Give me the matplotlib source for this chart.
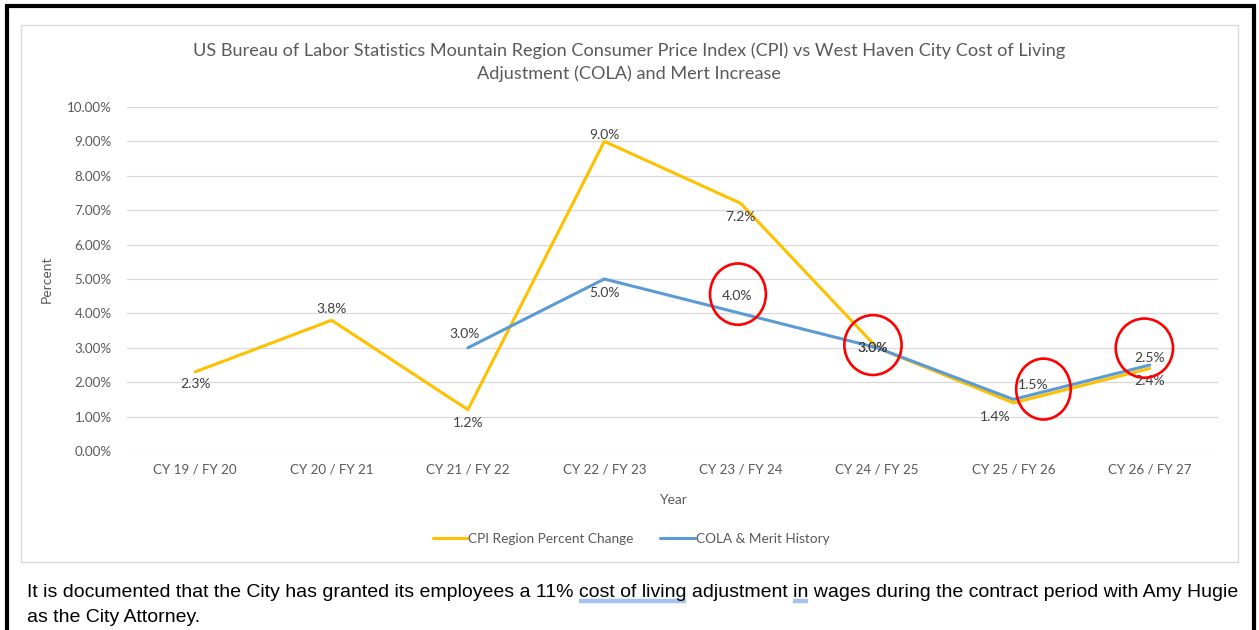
import numpy as np
import matplotlib
matplotlib.use('Agg')
from matplotlib import pyplot as plt
from matplotlib.patches import Ellipse, Rectangle

years = ['CY 19 / FY 20', 'CY 20 / FY 21', 'CY 21 / FY 22', 'CY 22 / FY 23',
         'CY 23 / FY 24', 'CY 24 / FY 25', 'CY 25 / FY 26', 'CY 26 / FY 27']
cpi = [2.3, 3.8, 1.2, 9.0, 7.2, 3.0, 1.4, 2.4]
cola = [np.nan, np.nan, 3.0, 5.0, 4.0, 3.0, 1.5, 2.5]
yticks = [0, 1, 2, 3, 4, 5, 6, 7, 8, 9, 10]

title = ('US Bureau of Labor Statistics Mountain Region Consumer Price Index (CPI) '
         'vs West Haven City Cost of Living\nAdjustment (COLA) and Mert Increase')
note_line1 = ('It is documented that the City has granted its employees a 11% cost of '
              'living adjustment in wages during the contract period with Amy Hugie')
note_line2 = 'as the City Attorney.'
underlined = ['cost of living', ' in ']

# label offsets in pixels (dx, dy up)
cpi_off = [(0, -12), (0, 11), (0, -13), (0, 6), (0, -14), (-4, 0), (-18, -14), (0, -13)]
cola_off = [None, None, (-3, 14), (0, -14), (-4, 17), (-4, 0), (20, 14), (0, 7)]
# red hand-drawn circles (x, y, w, h) in data units
circles = [(3.98, 4.56, 0.41, 1.78), (4.97, 3.08, 0.42, 1.74),
           (6.22, 1.80, 0.40, 1.77), (6.96, 2.99, 0.42, 1.72)]

W, H = 1259, 630
gold = '#FFC000'
blue = '#5B9BD5'
gray = '#595959'
font = 'Lato'

fig = plt.figure(figsize=(W / 100, H / 100), dpi=100)
fig.patch.set_facecolor('white')
ax = fig.add_axes([127 / W, 179 / H, 1091 / W, 344 / H])

x = np.arange(len(years))
ax.plot(x, cpi, color=gold, lw=2.2, solid_capstyle='round', solid_joinstyle='round',
        label='CPI Region Percent Change', zorder=3)
ax.plot(x, cola, color=blue, lw=2.2, solid_capstyle='round', solid_joinstyle='round',
        label='COLA & Merit History', zorder=4)

for i, v in enumerate(cpi):
    dx, dy = cpi_off[i]
    ax.annotate(f'{v:.1f}%', (x[i], v), xytext=(dx * 0.72, dy * 0.72),
                textcoords='offset points', ha='center', va='center',
                fontsize=10, color='#404040', family=font, zorder=6)
for i, v in enumerate(cola):
    if cola_off[i] is None:
        continue
    dx, dy = cola_off[i]
    ax.annotate(f'{v:.1f}%', (x[i], v), xytext=(dx * 0.72, dy * 0.72),
                textcoords='offset points', ha='center', va='center',
                fontsize=10, color='#404040', family=font, zorder=6)

for cx, cy, w, h in circles:
    ax.add_patch(Ellipse((cx, cy), w, h, fill=False, edgecolor='#FF0000',
                         lw=1.9, clip_on=False, zorder=7))

ax.set_xlim(-0.5, len(years) - 0.5)
ax.set_ylim(0, 10)
ax.set_yticks(yticks)
ax.set_yticklabels([f'{t:.2f}%' for t in yticks])
ax.set_xticks(x)
ax.set_xticklabels(years)
ax.grid(axis='y', color='#D9D9D9', lw=0.9)
ax.set_axisbelow(True)
for s in ax.spines.values():
    s.set_visible(False)
ax.tick_params(length=0, labelsize=9.6, labelcolor=gray)
ax.tick_params(axis='y', pad=11)
ax.tick_params(axis='x', pad=9)
for lab in ax.get_xticklabels() + ax.get_yticklabels():
    lab.set_family(font)
ax.set_ylabel('Percent', fontsize=10, color=gray, family=font)
ax.yaxis.set_label_coords(-0.068, 0.5)
ax.set_xlabel('Year', fontsize=10, color=gray, family=font)
ax.xaxis.set_label_coords(0.5, -0.125)

fig.legend(loc='center', bbox_to_anchor=(631 / W, 1 - 539 / H), ncol=2, frameon=False,
           prop={'family': font, 'size': 9.8}, labelcolor=gray, handlelength=2.5,
           handletextpad=0.1, columnspacing=2.0)

fig.text(629 / W, 1 - 62 / H, title, ha='center', va='center', fontsize=13.1,
         color=gray, family=font, linespacing=1.5)

# overlay in pixel coordinates for frame and note text
ov = fig.add_axes([0, 0, 1, 1], facecolor='none')
ov.set_xlim(0, W)
ov.set_ylim(H, 0)
ov.axis('off')
ov.add_patch(Rectangle((21, 25), 1217, 537, fill=False, edgecolor='#D9D9D9', lw=1))
ov.plot([7, 7], [5, H], color='black', lw=3, solid_capstyle='butt')
ov.plot([5, 1256], [6, 6], color='black', lw=3, solid_capstyle='butt')
ov.plot([1254, 1254], [5, H], color='black', lw=3, solid_capstyle='butt')

nfs = 14
ov.text(27, 597, note_line1, fontsize=nfs, family='Liberation Sans', color='black',
        va='baseline', ha='left')
ov.text(27, 622, note_line2, fontsize=nfs, family='Liberation Sans', color='black',
        va='baseline', ha='left')

# spell-check style underlines, placed by measuring the text
fig.canvas.draw()
rend = fig.canvas.get_renderer()
probe = ov.text(0, 0, '', fontsize=nfs, family='Liberation Sans')


def width(s):
    probe.set_text(s)
    return probe.get_window_extent(rend).width


for phrase in underlined:
    word = phrase.strip()
    i0 = note_line1.index(phrase) + phrase.index(word)
    x0 = 27 + width(note_line1[:i0] + word[0]) - width(word[0])
    x1 = 27 + width(note_line1[:i0] + word)
    ov.plot([x0, x1], [601, 601], color='#A4C2F4', lw=3.2, solid_capstyle='butt')
probe.remove()

fig.savefig('out.png', dpi=100)
